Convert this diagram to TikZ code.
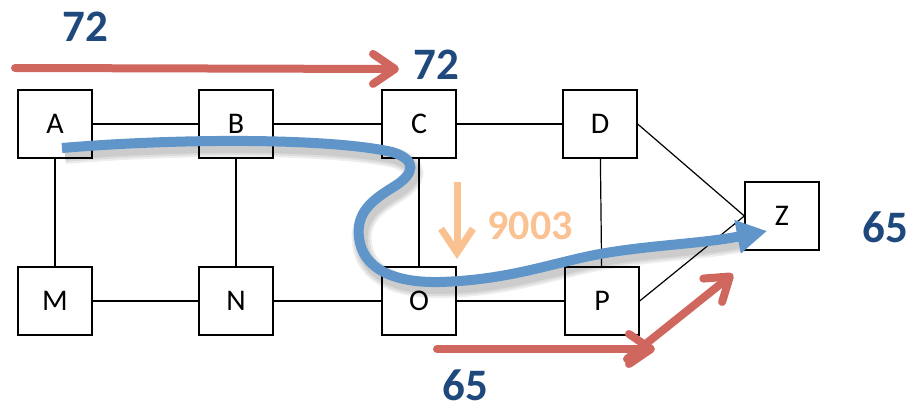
\documentclass[tikz,border=0pt]{standalone}
\usepackage{fontspec}
\setmainfont{Carlito}
\usetikzlibrary{arrows.meta}
\definecolor{flowred}{RGB}{208,103,95}
\definecolor{numblue}{RGB}{31,73,125}
\definecolor{pathblue}{RGB}{96,149,201}
\definecolor{costorange}{RGB}{250,194,146}
\begin{document}
\begin{tikzpicture}[x=1pt,y=-1pt,
  router/.style={draw, fill=white, line width=1.3pt, minimum width=74pt, minimum height=68pt,
    inner sep=0pt, font=\fontsize{30}{32}\selectfont},
  link/.style={line width=1.2pt},
  num/.style={font=\bfseries\fontsize{45}{45}\selectfont, text=numblue, inner sep=0pt},
  flow/.style={flowred, line width=8pt, line cap=round,
    -{Straight Barb[length=22pt, width=30pt, round]}},
  costarrow/.style={costorange, line width=7pt,
    -{Straight Barb[length=24pt, width=32pt]}},
  route/.style={pathblue, line width=10pt, -{Triangle[length=30pt, width=32pt]}},
  routeshadow/.style={black, line width=#1, opacity=0.07}
]
\useasboundingbox (0,0) rectangle (911,409);

% router positions
\coordinate (pA) at (55,124);
\coordinate (pB) at (236,124);
\coordinate (pC) at (419,124);
\coordinate (pD) at (600,124);
\coordinate (pZ) at (782,216);
\coordinate (pM) at (55,301);
\coordinate (pN) at (236,301);
\coordinate (pO) at (419,301);
\coordinate (pP) at (602,301);

% routers
\node[router] (A) at (pA) {A};
\node[router] (B) at (pB) {B};
\node[router] (C) at (pC) {C};
\node[router] (D) at (pD) {D};
\node[router] (Z) at (pZ) {Z};
\node[router] (M) at (pM) {M};
\node[router] (N) at (pN) {N};
\node[router] (O) at (pO) {O};
\node[router] (P) at (pP) {P};

% links
\draw[link] (A) -- (B);
\draw[link] (B) -- (C);
\draw[link] (C) -- (D);
\draw[link] (M) -- (N);
\draw[link] (N) -- (O);
\draw[link] (O) -- (P);
\draw[link] (A) -- (M);
\draw[link] (B) -- (N);
\draw[link] (C) -- (O);
\draw[link] (D) -- (P);
\draw[link] (D.east) -- (Z.west);
\draw[link] (P.east) -- (Z.west);

% flow arrows and labels
\coordinate (f1s) at (15,68);
\coordinate (f1e) at (399,69);
\draw[flow] (f1s) -- (f1e);
\coordinate (f2s) at (437,349);
\coordinate (f2e) at (655,349);
\draw[flow] (f2s) -- (f2e);
\coordinate (f3s) at (627,359);
\coordinate (f3e) at (733,274);
\draw[flow] (f3s) -- (f3e);

\node[num] (n72a) at (85,27) {72};
\node[num] (n72b) at (436,65) {72};
\node[num] (n65a) at (885,227) {65};
\node[num] (n65b) at (465,385) {65};

% cost arrow
\coordinate (cs) at (457,182);
\coordinate (ce) at (457,259);
\draw[costarrow] (cs) -- (ce);
\node[font=\bfseries\fontsize{42}{42}\selectfont, text=costorange, inner sep=0pt] (cost) at (530,226) {9003};

% chosen route with soft shadow
\coordinate (r0) at (62,148);
\coordinate (r1) at (767,231);
\foreach \w in {20,16,12} {
  \draw[routeshadow=\w pt, shift={(3,6)}] (62,148) .. controls (180,138) and (330,138) .. (392,152)
    .. controls (418,160) and (414,174) .. (395,186)
    .. controls (372,200) and (356,212) .. (359,238)
    .. controls (363,268) and (392,283) .. (440,282)
    .. controls (510,280) and (555,262) .. (600,254)
    .. controls (650,245) and (700,244) .. (740,236);
}
\draw[route] (r0) .. controls (180,138) and (330,138) .. (392,152)
    .. controls (418,160) and (414,174) .. (395,186)
    .. controls (372,200) and (356,212) .. (359,238)
    .. controls (363,268) and (392,283) .. (440,282)
    .. controls (510,280) and (555,262) .. (600,254)
    .. controls (650,245) and (700,244) .. (r1);
\end{tikzpicture}
\end{document}
